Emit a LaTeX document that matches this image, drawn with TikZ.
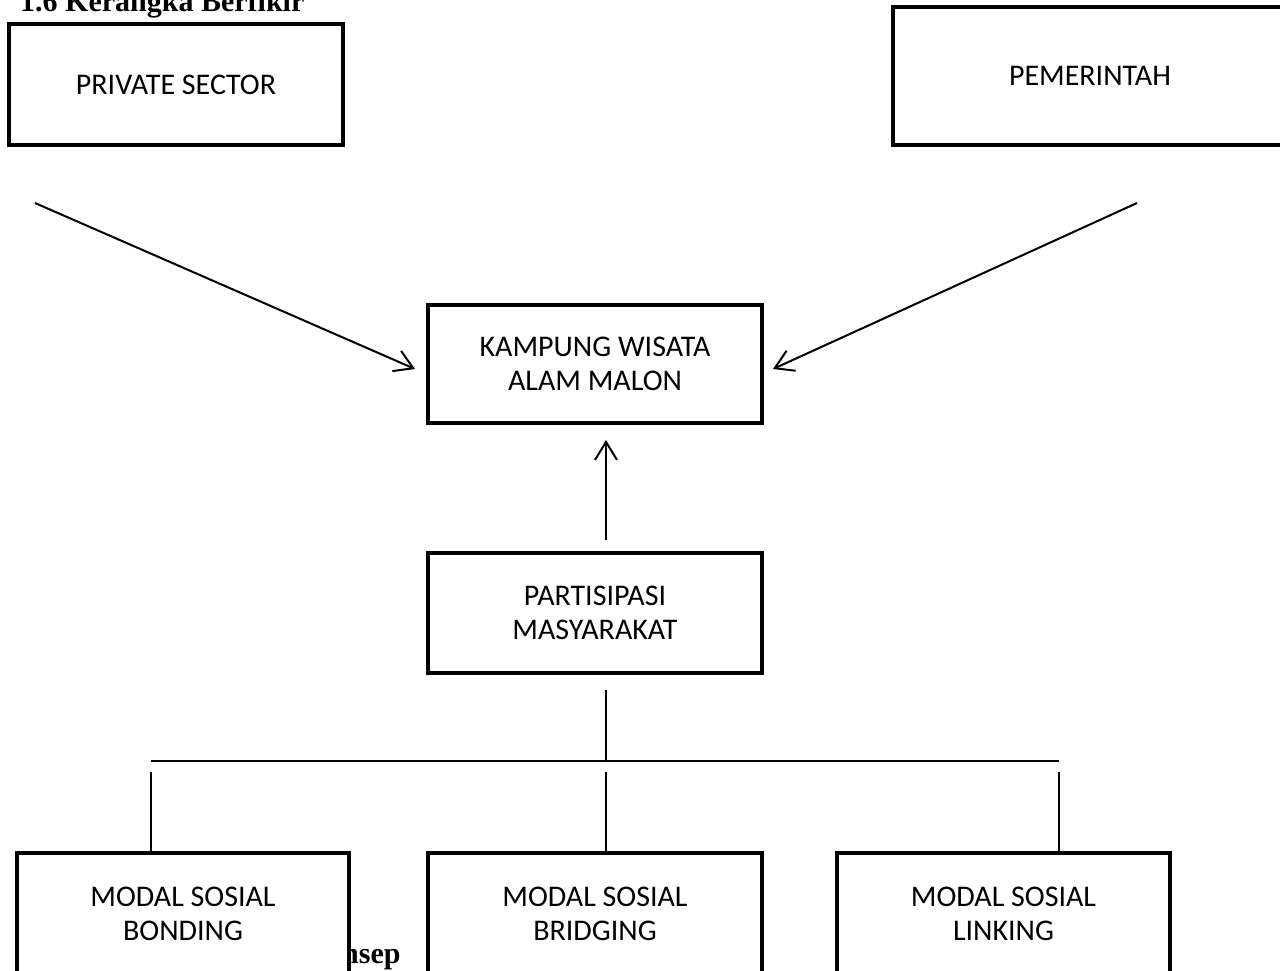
\documentclass[tikz,border=0pt]{standalone}
\usepackage{fontspec}
\setmainfont{Carlito}
\newfontfamily\serifb{Liberation Serif}
\usetikzlibrary{arrows.meta}
\begin{document}
\begin{tikzpicture}[x=1pt,y=-1pt,
  box/.style={draw, line width=4pt, fill=white, inner sep=0pt, outer sep=0pt, align=center,
    font=\fontsize{30}{34}\selectfont},
  ln/.style={line width=2pt},
  arr/.style={line width=2pt, -{Straight Barb[length=18pt,width=22pt]}},
  hdr/.style={anchor=base west, inner sep=0pt, font=\serifb\bfseries\fontsize{30}{36}\selectfont}]
\clip (0,0) rectangle (1280,970);
\fill[white] (0,0) rectangle (1280,970);
% texts partly hidden
\node[hdr] (head) at (20,11) {1.6 Kerangka Berfikir};
\node[hdr] (ks) at (342,963) {nsep};
% boxes
\node[box, minimum width=334pt, minimum height=121pt] (ps) at (176,84.5) {PRIVATE SECTOR};
\node[box, minimum width=394pt, minimum height=138pt] (pem) at (1090,76) {PEMERINTAH};
\node[box, minimum width=334pt, minimum height=118pt] (kwa) at (595,364) {KAMPUNG WISATA\\ALAM MALON};
\node[box, minimum width=334pt, minimum height=120pt] (par) at (595,613) {PARTISIPASI\\MASYARAKAT};
\node[box, minimum width=332pt, minimum height=122pt] (bon) at (183,914) {MODAL SOSIAL\\BONDING};
\node[box, minimum width=334pt, minimum height=122pt] (brid) at (595,914) {MODAL SOSIAL\\BRIDGING};
\node[box, minimum width=333pt, minimum height=122pt] (link) at (1003.5,914) {MODAL SOSIAL\\LINKING};
% free ends
\coordinate (la) at (35,203);
\coordinate (ra) at (1137,203);
\coordinate (hl) at (151,761);
\coordinate (hm) at (606,761);
\coordinate (hr) at (1059,761);
\coordinate (vl) at (151,772);
\coordinate (vm) at (606,772);
\coordinate (vr) at (1059,772);
% connectors
\draw[arr] (la) -- ([shift={(-13,5)}]kwa.west);
\draw[arr] (ra) -- ([shift={(11,5)}]kwa.east);
\draw[arr] ([shift={(11,-13)}]par.north) -- ([shift={(11,17)}]kwa.south);
\draw[ln] ([shift={(11,17)}]par.south) -- (hm);
\draw[ln] (hl) -- (hr);
\draw[ln] (vl) -- (vl |- bon.north);
\draw[ln] (vm) -- (vm |- brid.north);
\draw[ln] (vr) -- (vr |- link.north);
\end{tikzpicture}
\end{document}
